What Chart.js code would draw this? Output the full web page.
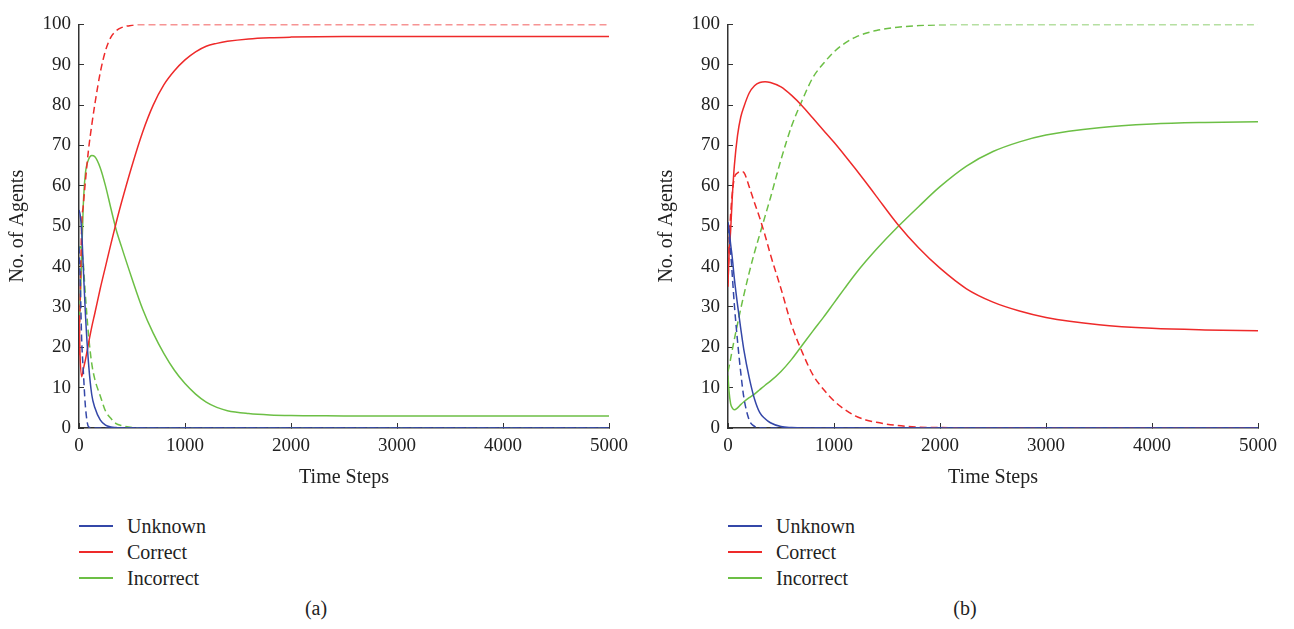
<!DOCTYPE html>
<html>
<head>
    <title>Agent Opinion Dynamics</title>
    <script src="https://cdn.jsdelivr.net/npm/chart.js@4"></script>
    <style>
        body { margin: 0; background: #fff; font-family: "Liberation Serif", "DejaVu Serif", serif; color: #222; }
        #page { position: relative; width: 1294px; height: 629px; }
        .panel { position: absolute; top: 0; width: 647px; height: 500px; }
        .legend { position: absolute; font-size: 20px; }
        .legend .row { position: absolute; left: 0; height: 26px; line-height: 26px; white-space: nowrap; }
        .legend .swatch { position: absolute; left: 0; top: 12px; width: 34px; height: 1.5px; }
        .legend .label { position: absolute; left: 48px; top: 0; }
        .caption { position: absolute; top: 597px; font-size: 20px; width: 60px; text-align: center; }
    </style>
</head>
<body>
<div id="page">
    <div class="panel" style="left:0"><canvas id="chart-a" width="647" height="500"></canvas></div>
    <div class="panel" style="left:649px"><canvas id="chart-b" width="647" height="500"></canvas></div>
    <div class="legend" id="legend-a" style="left:79px; top:513px"></div>
    <div class="legend" id="legend-b" style="left:728px; top:513px"></div>
    <div class="caption" style="left:286px">(a)</div>
    <div class="caption" style="left:935px">(b)</div>
</div>

<script>
    // time steps shared by every series
    const steps = [0, 10, 25, 40, 60, 90, 120, 150, 200, 250, 300, 350, 400, 500, 600, 700, 800, 900, 1000,
                   1100, 1200, 1300, 1400, 1600, 1800, 2000, 2250, 2500, 2750, 3000, 3500, 4000, 4500, 5000];

    // panel (a)
    const unknownA       = [54, 53, 49, 40, 28.5, 16, 8.3, 5, 2, 0.7, 0.25, 0.1, 0, 0, 0, 0, 0, 0, 0, 0, 0, 0, 0, 0, 0, 0, 0, 0, 0, 0, 0, 0, 0, 0];
    const unknownDashA   = [45, 38, 22, 14.5, 5.5, 0.3, 0.05, 0, 0, 0, 0, 0, 0, 0, 0, 0, 0, 0, 0, 0, 0, 0, 0, 0, 0, 0, 0, 0, 0, 0, 0, 0, 0, 0];
    const correctA       = [28, 18, 12.7, 14.5, 16.8, 21, 25, 28.5, 34.5, 40, 45.5, 50.8, 55.8, 65, 73.3, 80, 85, 88.5, 91.2, 93.2,
                            94.6, 95.3, 95.8, 96.4, 96.7, 96.85, 96.95, 97, 97, 97, 97, 97, 97, 97];
    const correctDashA   = [18, 30, 50, 55, 61, 69, 75, 80.3, 88, 93.5, 96.8, 98.4, 99.2, 99.8, 100, 100, 100, 100, 100, 100,
                            100, 100, 100, 100, 100, 100, 100, 100, 100, 100, 100, 100, 100, 100];
    const incorrectA     = [24, 30, 42, 55, 63, 66.5, 67.5, 67.2, 64.5, 60, 54.5, 49.2, 45, 37, 29.5, 23.5, 18.5, 14.3, 11, 8.4,
                            6.4, 5.1, 4.3, 3.6, 3.25, 3.1, 3.05, 3, 3, 3, 3, 3, 3, 3];
    const incorrectDashA = [44, 45, 44, 41, 33, 23, 16, 12, 8, 4.2, 2.4, 1.1, 0.6, 0.1, 0, 0, 0, 0, 0, 0, 0, 0, 0, 0, 0, 0, 0, 0, 0, 0, 0, 0, 0, 0];

    // panel (b)
    const unknownB       = [51, 49, 45.5, 42.3, 37, 30.5, 24.7, 19.3, 12.5, 7.2, 3.8, 2.3, 1.3, 0.35, 0.1, 0, 0, 0, 0, 0, 0, 0, 0, 0, 0, 0, 0, 0, 0, 0, 0, 0, 0, 0];
    const unknownDashB   = [50, 47.5, 43.5, 38, 30.5, 21.5, 13.8, 7.5, 2, 0.4, 0.05, 0, 0, 0, 0, 0, 0, 0, 0, 0, 0, 0, 0, 0, 0, 0, 0, 0, 0, 0, 0, 0, 0, 0];
    const correctB       = [36, 43, 49, 57, 65, 72.5, 77, 79.6, 83, 84.8, 85.6, 85.8, 85.6, 84.5, 82.4, 79.8, 76.8, 73.8, 70.8, 67.6,
                            64.3, 60.9, 57.4, 50.5, 44.6, 39.6, 34.5, 31.2, 29, 27.4, 25.6, 24.7, 24.3, 24.1];
    const correctDashB   = [35, 45, 53, 58, 62, 63.2, 63.6, 63.3, 59.8, 55.8, 52, 47.7, 43, 34.5, 25.5, 18.8, 13.2, 9.6, 6.7, 4.6,
                            3, 2, 1.4, 0.6, 0.2, 0.1, 0.03, 0, 0, 0, 0, 0, 0, 0];
    const incorrectB     = [13, 9, 6, 5, 4.5, 5, 5.8, 6.5, 7.5, 8.4, 9.5, 10.6, 11.6, 14, 17, 20.5, 24, 27.4, 31, 34.6,
                            38.1, 41.3, 44.3, 49.8, 54.9, 59.8, 64.9, 68.5, 70.9, 72.6, 74.4, 75.3, 75.7, 75.9];
    const incorrectDashB = [14, 15.2, 17.2, 19.3, 22, 25.8, 29.5, 33, 38.5, 43.5, 48, 52.5, 57, 66.5, 74.8, 81.2, 86.8, 90.3, 93.2, 95.3,
                            96.8, 97.8, 98.5, 99.3, 99.7, 99.9, 100, 100, 100, 100, 100, 100, 100, 100];

    const xTicks = [0, 1000, 2000, 3000, 4000, 5000];
    const seriesNames = ['Unknown', 'Correct', 'Incorrect'];
    const colors = { Unknown: '#3447a8', Correct: '#ee2a2a', Incorrect: '#6cbf45' };

    function line(label, values, dashed) {
        return {
            label: label,
            data: steps.map((t, i) => ({ x: t, y: values[i] })),
            borderColor: colors[label],
            borderWidth: 1.5,
            borderDash: dashed ? [7, 4] : [],
            pointRadius: 0,
            cubicInterpolationMode: 'monotone',
            fill: false
        };
    }

    const tickFont = { family: '"Liberation Serif", serif', size: 19 };
    const titleFont = { family: '"Liberation Serif", serif', size: 20 };

    function options() {
        return {
            responsive: false,
            animation: false,
            layout: { padding: { top: 12, right: 38, bottom: 0, left: 0 } },
            plugins: { legend: { display: false }, tooltip: { enabled: false } },
            scales: {
                x: {
                    type: 'linear',
                    min: 0,
                    max: 5000,
                    afterFit: s => { s.height = 72; },
                    afterBuildTicks: s => { s.ticks = xTicks.map(v => ({ value: v })); },
                    ticks: { padding: 12, color: '#222', font: tickFont, maxRotation: 0, format: { useGrouping: false } },
                    grid: { drawOnChartArea: false, tickLength: -5, color: '#333' },
                    border: { color: '#333', width: 1.5 },
                    title: { display: true, text: 'Time Steps', color: '#222', font: titleFont, padding: { top: 0, bottom: 10 } }
                },
                y: {
                    min: 0,
                    max: 100,
                    afterFit: s => { s.width = 79; },
                    ticks: { stepSize: 10, padding: 13, color: '#222', font: tickFont },
                    grid: { drawOnChartArea: false, tickLength: -5, color: '#333' },
                    border: { color: '#333', width: 1.5 },
                    title: { display: true, text: 'No. of Agents', color: '#222', font: titleFont, padding: { top: 6, bottom: 0 } }
                }
            }
        };
    }

    // first dataset is painted last, so blue ends up on top
    new Chart(document.getElementById('chart-a'), {
        type: 'line',
        data: { datasets: [
            line('Unknown', unknownA, false), line('Unknown', unknownDashA, true),
            line('Correct', correctA, false), line('Correct', correctDashA, true),
            line('Incorrect', incorrectA, false), line('Incorrect', incorrectDashA, true)
        ] },
        options: options()
    });

    new Chart(document.getElementById('chart-b'), {
        type: 'line',
        data: { datasets: [
            line('Unknown', unknownB, false), line('Unknown', unknownDashB, true),
            line('Correct', correctB, false), line('Correct', correctDashB, true),
            line('Incorrect', incorrectB, false), line('Incorrect', incorrectDashB, true)
        ] },
        options: options()
    });

    // legends under each panel
    ['legend-a', 'legend-b'].forEach(id => {
        const box = document.getElementById(id);
        seriesNames.forEach((name, i) => {
            const row = document.createElement('div');
            row.className = 'row';
            row.style.top = (i * 26) + 'px';
            row.innerHTML = '<span class="swatch" style="background:' + colors[name] + '"></span><span class="label">' + name + '</span>';
            box.appendChild(row);
        });
    });
</script>
</body>
</html>
